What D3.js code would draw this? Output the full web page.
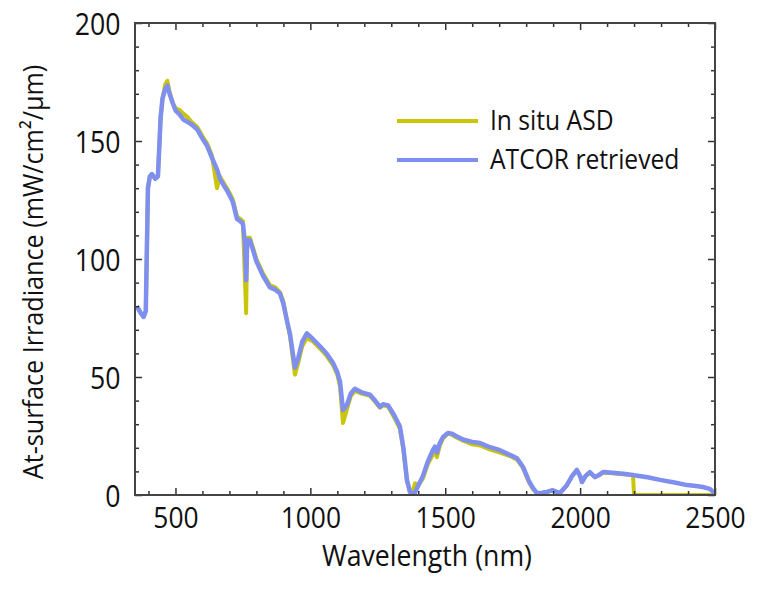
<!DOCTYPE html>
<html>
<head>
<meta charset="utf-8">
<script src="https://d3js.org/d3.v7.min.js"></script>
<style>
body { margin: 0; background: #fff; }
text { font-family: "Open Sans", sans-serif; fill: #111; }
</style>
</head>
<body>
<script>
//wavelengths (nm) shared by both spectra
var wavelength = [357, 372, 382, 390, 398, 405, 413, 425, 435, 445, 452, 462, 470, 478, 490, 500, 517, 530, 546, 560,
    580, 600, 617, 635, 654, 665, 680, 691, 705, 713, 728, 740, 750, 758, 762, 766, 776, 787, 800, 824,
    850, 870, 887, 900, 913, 925, 935, 943, 955, 970, 987, 1010, 1036, 1060, 1084, 1100, 1110, 1121, 1135, 1150,
    1165, 1190, 1221, 1240, 1258, 1270, 1288, 1310, 1332, 1345, 1358, 1369, 1380, 1388, 1400, 1417, 1435, 1454, 1462, 1469,
    1480, 1492, 1510, 1525, 1540, 1566, 1600, 1629, 1660, 1703, 1740, 1766, 1788, 1810, 1825, 1840, 1860, 1877, 1899, 1925,
    1950, 1970, 1988, 2000, 2007, 2020, 2036, 2055, 2070, 2085, 2120, 2160, 2196, 2200, 2250, 2296, 2350, 2396, 2430, 2455,
    2480, 2492, 2500];

//ATCOR retrieved irradiance
var atcor = [80, 77, 75.5, 78, 130, 135, 136, 134, 135, 160, 168, 172, 173.5, 170, 166, 163, 161, 159, 158, 157,
    155, 151, 148, 143, 138, 134, 131, 129, 126, 124, 117, 116, 115, 106, 91, 108, 108, 104, 99, 93,
    88, 87, 85.5, 81, 74, 68, 60, 54, 58, 65, 68.5, 66, 63, 60, 56, 52, 48, 36, 38, 43,
    45, 43.5, 42.5, 40, 37.3, 38.5, 38, 34, 29, 20, 6.5, 1.3, 0.5, 1, 4, 8, 14, 19, 20.5, 18,
    22, 24.6, 26.3, 26, 25, 23.5, 22.5, 22, 20.5, 19, 17, 15.6, 12, 6, 3, 0.8, 1, 1.3, 2, 0.8,
    4, 8, 10.6, 8, 5.5, 8, 9.7, 7.6, 8.5, 9.7, 9.4, 9, 8.5, 8.4, 7.5, 6.4, 5.3, 4.2, 3.8, 3.4,
    2.6, 1.5, 1];

//in situ ASD irradiance
var asd = [80, 77, 75.5, 78, 130, 135, 136, 134, 135, 160, 168, 174, 175.5, 171, 166, 164, 163, 161.5, 160, 158,
    156, 152, 149, 144, 130, 135, 132, 130, 127, 125, 118, 117, 116, 90, 77, 109, 109, 105, 100, 94,
    89, 88, 86, 82, 74, 67, 58, 51, 56, 63, 66.5, 65, 62, 59, 55, 51, 46, 30.5, 36, 42,
    44, 43, 42, 39.5, 37, 38, 37.5, 33, 28, 19, 6, 2, 1.5, 5, 4, 7, 13, 17, 18, 16,
    21, 24, 26, 25.5, 24.5, 23, 21.5, 21, 19.5, 18, 16.5, 15, 11.5, 5.5, 2.5, 0.8, 1, 1.3, 2, 0.8,
    4, 8, 10.5, 8, 5.5, 8, 9.5, 7.5, 8.3, 9.5, 9.2, 8.8, 8.4, 0, 0, 0, 0, 0, 0, 0,
    0, 0, 0];

var xTicks = [500, 1000, 1500, 2000, 2500],
    yTicks = [0, 50, 100, 150, 200];

var series = [
    {name: "In situ ASD", values: asd, color: "#cbc50a", width: 4},
    {name: "ATCOR retrieved", values: atcor, color: "#7f8ff0", width: 4.5}
];

window.onload = drawChart();

function drawChart(){
    //frame dimensions
    var width = 758,
        height = 590,
        margin = {top: 23, right: 43, bottom: 95, left: 135},
        w = width - margin.left - margin.right,
        h = height - margin.top - margin.bottom;

    var svg = d3.select("body")
        .append("svg")
        .attr("width", width)
        .attr("height", height);

    var g = svg.append("g")
        .attr("transform", "translate(" + margin.left + "," + margin.top + ")");

    var x = d3.scaleLinear().domain([350, 2500]).range([0, w]);
    var y = d3.scaleLinear().domain([0, 200]).range([h, 0]);

    var line = function(vals){
        return d3.line()
            .x(function(d, i){ return x(wavelength[i]); })
            .y(function(d){ return y(d); })(vals);
    };

    //clip the lines to the frame
    g.append("clipPath").attr("id", "clip")
        .append("rect").attr("width", w).attr("height", h);

    //spectra, yellow underneath blue
    g.selectAll(".spec")
        .data(series)
        .enter()
        .append("path")
        .attr("class", "spec")
        .attr("clip-path", "url(#clip)")
        .attr("d", function(d){ return line(d.values); })
        .attr("fill", "none")
        .attr("stroke", function(d){ return d.color; })
        .attr("stroke-width", function(d){ return d.width; })
        .attr("stroke-linejoin", "round");

    //minor and major ticks on all four sides, pointing inward
    var minorX = d3.range(400, 2500, 100).filter(function(v){ return v % 500 != 0; }),
        minorY = d3.range(10, 200, 10).filter(function(v){ return v % 50 != 0; });

    function ticks(axisFn, scale, vals, len, transform){
        g.append("g")
            .attr("transform", transform)
            .call(axisFn(scale).tickValues(vals).tickSize(len).tickFormat(""))
            .call(function(s){
                s.select(".domain").remove();
                s.selectAll("line").attr("stroke", "#333").attr("stroke-width", 1.5);
            });
    }
    ticks(d3.axisTop, x, minorX, 4, "translate(0," + h + ")");
    ticks(d3.axisTop, x, xTicks, 7, "translate(0," + h + ")");
    ticks(d3.axisBottom, x, minorX, 4, "translate(0,0)");
    ticks(d3.axisBottom, x, xTicks, 7, "translate(0,0)");
    ticks(d3.axisRight, y, minorY, 4, "translate(0,0)");
    ticks(d3.axisRight, y, yTicks, 7, "translate(0,0)");
    ticks(d3.axisLeft, y, minorY, 4, "translate(" + w + ",0)");
    ticks(d3.axisLeft, y, yTicks, 7, "translate(" + w + ",0)");

    //frame
    g.append("rect")
        .attr("width", w)
        .attr("height", h)
        .attr("fill", "none")
        .attr("stroke", "#444")
        .attr("stroke-width", 2);

    //tick labels
    var xAxis = g.append("g")
        .attr("transform", "translate(0," + h + ")")
        .call(d3.axisBottom(x).tickValues(xTicks).tickSize(0).tickPadding(0).tickFormat(d3.format("d")));
    xAxis.select(".domain").remove();
    xAxis.selectAll("text")
        .attr("font-size", 30)
        .attr("y", 33)
        .attr("dy", 0)
        .attr("transform", "scale(0.88,1)");

    var yAxis = g.append("g")
        .call(d3.axisLeft(y).tickValues(yTicks).tickSize(0).tickPadding(0));
    yAxis.select(".domain").remove();
    yAxis.selectAll("text")
        .attr("font-size", 31)
        .attr("x", -17)
        .attr("dy", "0.36em")
        .attr("transform", "scale(0.86,1)");
    svg.selectAll(".tick text").style("font-family", "'Open Sans', sans-serif").attr("fill", "#111");

    //axis titles
    svg.append("text")
        .attr("x", 427)
        .attr("y", 566)
        .attr("text-anchor", "middle")
        .attr("font-size", 29)
        .attr("transform", "translate(427,0) scale(0.92,1) translate(-427,0)")
        .text("Wavelength (nm)");

    svg.append("text")
        .attr("transform", "translate(43,272) rotate(-90) scale(0.9,1)")
        .attr("text-anchor", "middle")
        .attr("font-size", 28)
        .text("At-surface Irradiance (mW/cm²/μm)");

    //legend
    var legend = svg.selectAll(".legend")
        .data(series)
        .enter()
        .append("g")
        .attr("class", "legend")
        .attr("transform", function(d, i){ return "translate(397," + (121 + i * 39) + ")"; });
    legend.append("line")
        .attr("x1", 0).attr("x2", 81)
        .attr("stroke", function(d){ return d.color; })
        .attr("stroke-width", 4);
    legend.append("text")
        .attr("x", 93)
        .attr("y", 9)
        .attr("font-size", 28)
        .attr("transform", "translate(93,0) scale(0.88,1) translate(-93,0)")
        .text(function(d){ return d.name; });
}
</script>
</body>
</html>
